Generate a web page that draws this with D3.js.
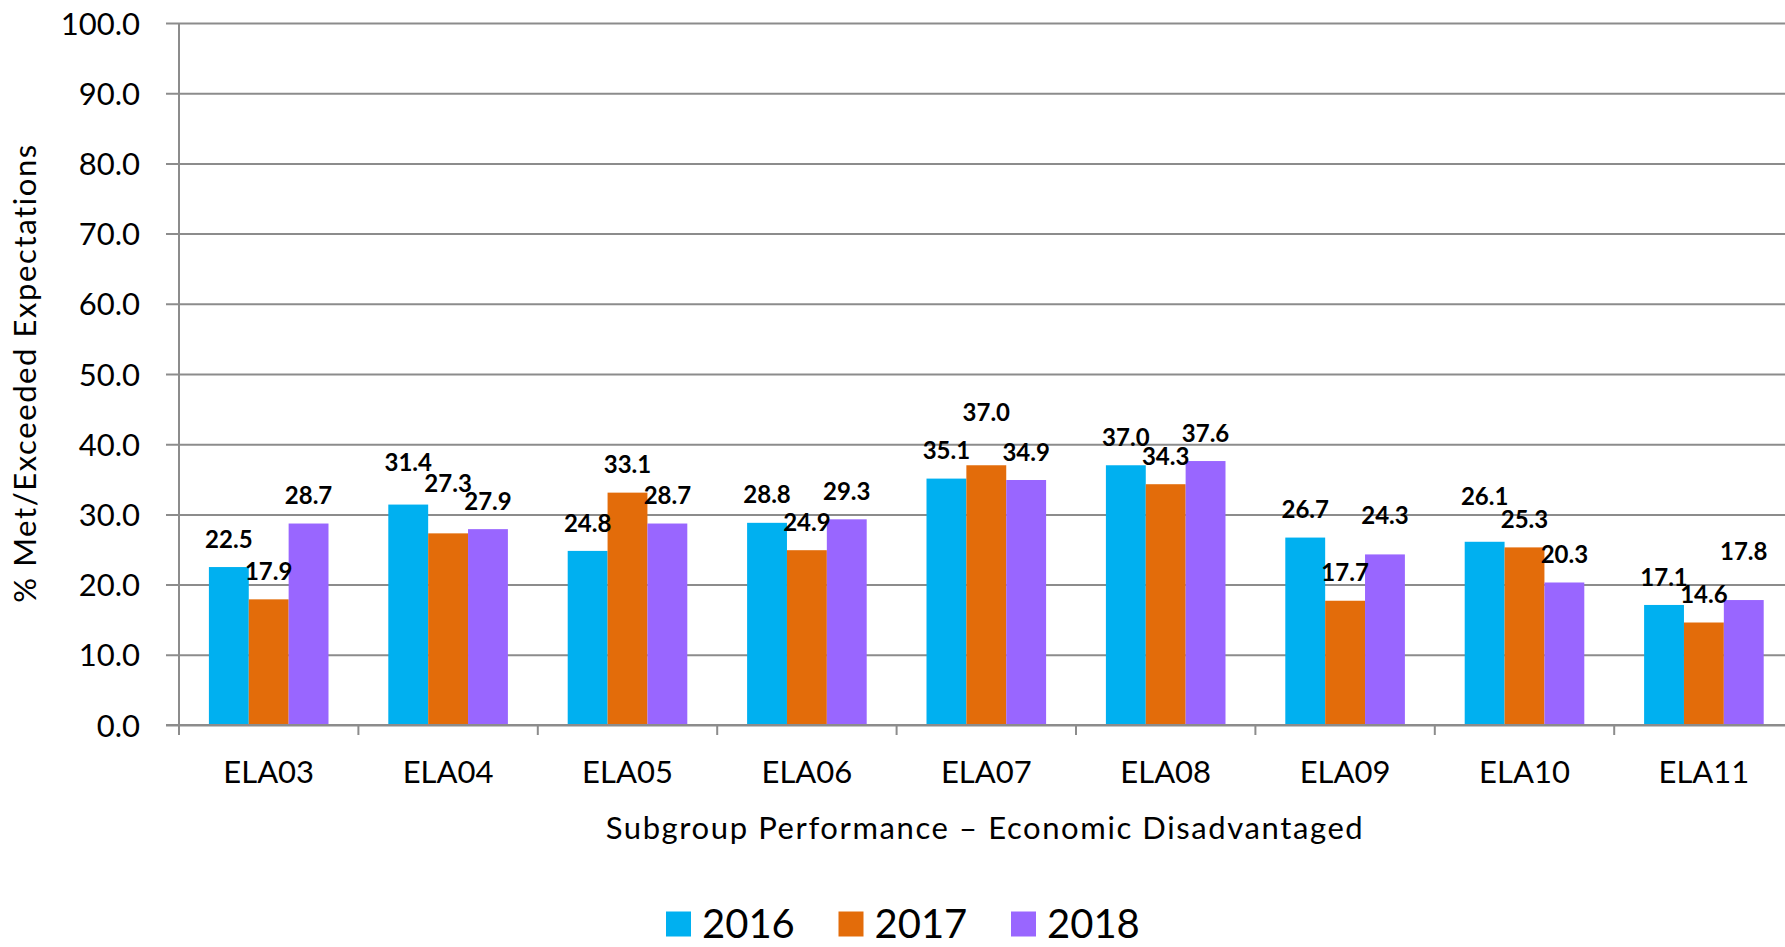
<!DOCTYPE html>
<html>
<head>
<meta charset="utf-8">
<script src="https://cdn.jsdelivr.net/npm/d3@7"></script>
<style>
  html, body { margin: 0; padding: 0; background: #fff; }
  svg { display: block; font-family: Lato, "Open Sans", sans-serif; }
</style>
</head>
<body>
<svg id="chart" width="1785" height="947"></svg>
<script>
const categories = ["ELA03", "ELA04", "ELA05", "ELA06", "ELA07", "ELA08", "ELA09", "ELA10", "ELA11"];
const years = ["2016", "2017", "2018"];
const values2016 = [22.5, 31.4, 24.8, 28.8, 35.1, 37.0, 26.7, 26.1, 17.1];
const values2017 = [17.9, 27.3, 33.1, 24.9, 37.0, 34.3, 17.7, 25.3, 14.6];
const values2018 = [28.7, 27.9, 28.7, 29.3, 34.9, 37.6, 24.3, 20.3, 17.8];
const yTicks = [0, 10, 20, 30, 40, 50, 60, 70, 80, 90, 100];
const colors = ["#00B0F0", "#E36C0A", "#9966FF"];

// extra lift for the labels Excel pushed up to avoid overlaps
const labelLift = {
  "ELA04-2016": 14, "ELA04-2017": 22, "ELA07-2017": 25,
  "ELA09-2018": 11, "ELA10-2016": 17, "ELA11-2018": 21
};

const seriesValues = [values2016, values2017, values2018];
const rows = categories.map((c, i) => ({
  cat: c,
  vals: years.map((yr, j) => ({ cat: c, year: yr, value: seriesValues[j][i], color: colors[j] }))
}));

const W = 1785, H = 947;
const plotLeft = 179, plotTop = 23, plotBottom = 725;
const step = 179.4;
const plotRight = plotLeft + step * categories.length;

const svg = d3.select("#chart");
const gridColor = "#8c8c8c";

const x = d3.scaleBand().domain(categories).range([plotLeft, plotRight]).padding(0);
const x1 = d3.scaleBand().domain(years).range([0, x.bandwidth()]).paddingInner(0).paddingOuter(0.75);
const y = d3.scaleLinear().domain([0, 100]).range([plotBottom, plotTop]);

// y axis with gridlines
const yAxis = svg.append("g")
  .attr("transform", `translate(${plotLeft},0)`)
  .call(d3.axisLeft(y).tickValues(yTicks).tickFormat(d3.format(".1f"))
    .tickSizeInner(-(W - plotLeft)).tickSizeOuter(0).tickPadding(39));
yAxis.select(".domain").remove();
yAxis.selectAll(".tick line")
  .attr("x1", -13)
  .attr("stroke", gridColor)
  .attr("stroke-width", 2);
yAxis.selectAll(".tick text")
  .attr("dy", "0.36em")
  .attr("font-size", 31)
  .attr("font-family", "Lato")
  .attr("fill", "#000");

// vertical axis line
svg.append("line")
  .attr("x1", plotLeft).attr("x2", plotLeft)
  .attr("y1", plotTop).attr("y2", plotBottom + 10)
  .attr("stroke", gridColor).attr("stroke-width", 2);

// category boundary ticks
svg.append("g")
  .selectAll("line")
  .data(categories.slice(1))
  .join("line")
  .attr("x1", (d) => x(d)).attr("x2", (d) => x(d))
  .attr("y1", plotBottom).attr("y2", plotBottom + 10)
  .attr("stroke", gridColor).attr("stroke-width", 2);

// bars
const groups = svg.append("g")
  .selectAll("g")
  .data(rows)
  .join("g")
  .attr("transform", (d) => `translate(${x(d.cat)},0)`);

groups.selectAll("rect")
  .data((d) => d.vals)
  .join("rect")
  .attr("x", (d) => x1(d.year))
  .attr("width", x1.bandwidth())
  .attr("y", (d) => y(d.value))
  .attr("height", (d) => plotBottom - y(d.value))
  .attr("fill", (d) => d.color);

// redraw baseline over bars
svg.append("line")
  .attr("x1", plotLeft - 13).attr("x2", W)
  .attr("y1", plotBottom).attr("y2", plotBottom)
  .attr("stroke", gridColor).attr("stroke-width", 2);

// data labels
groups.selectAll("text")
  .data((d) => d.vals)
  .join("text")
  .attr("x", (d) => x1(d.year) + x1.bandwidth() / 2)
  .attr("y", (d) => y(d.value) - 28 - (labelLift[d.cat + "-" + d.year] || 0))
  .attr("dy", "0.36em")
  .attr("text-anchor", "middle")
  .attr("font-size", 24)
  .attr("font-weight", "bold")
  .attr("fill", "#000")
  .text((d) => d3.format(".1f")(d.value));

// x axis labels
const xAxis = svg.append("g")
  .attr("transform", `translate(0,${plotBottom})`)
  .call(d3.axisBottom(x).tickSize(0).tickPadding(36));
xAxis.select(".domain").remove();
xAxis.selectAll(".tick text")
  .attr("font-size", 31)
  .attr("font-family", "Lato")
  .attr("fill", "#000");

// axis titles
svg.append("text")
  .attr("x", 985).attr("y", 828)
  .attr("dy", "0.36em")
  .attr("text-anchor", "middle")
  .attr("font-size", 31)
  .attr("letter-spacing", 1.6)
  .text("Subgroup  Performance – Economic Disadvantaged");

svg.append("text")
  .attr("transform", "translate(25,373) rotate(-90)")
  .attr("dy", "0.36em")
  .attr("text-anchor", "middle")
  .attr("font-size", 31)
  .attr("letter-spacing", 1.6)
  .text("% Met/Exceeded Expectations");

// legend
const legend = svg.append("g")
  .selectAll("g")
  .data(years)
  .join("g")
  .attr("transform", (d, i) => `translate(${666 + i * 172.5},924)`);
legend.append("rect")
  .attr("x", 0).attr("y", -12.5)
  .attr("width", 25).attr("height", 25)
  .attr("fill", (d, i) => colors[i]);
legend.append("text")
  .attr("x", 36)
  .attr("dy", "0.36em")
  .attr("font-size", 40)
  .attr("fill", "#000")
  .text((d) => d);
</script>
</body>
</html>
